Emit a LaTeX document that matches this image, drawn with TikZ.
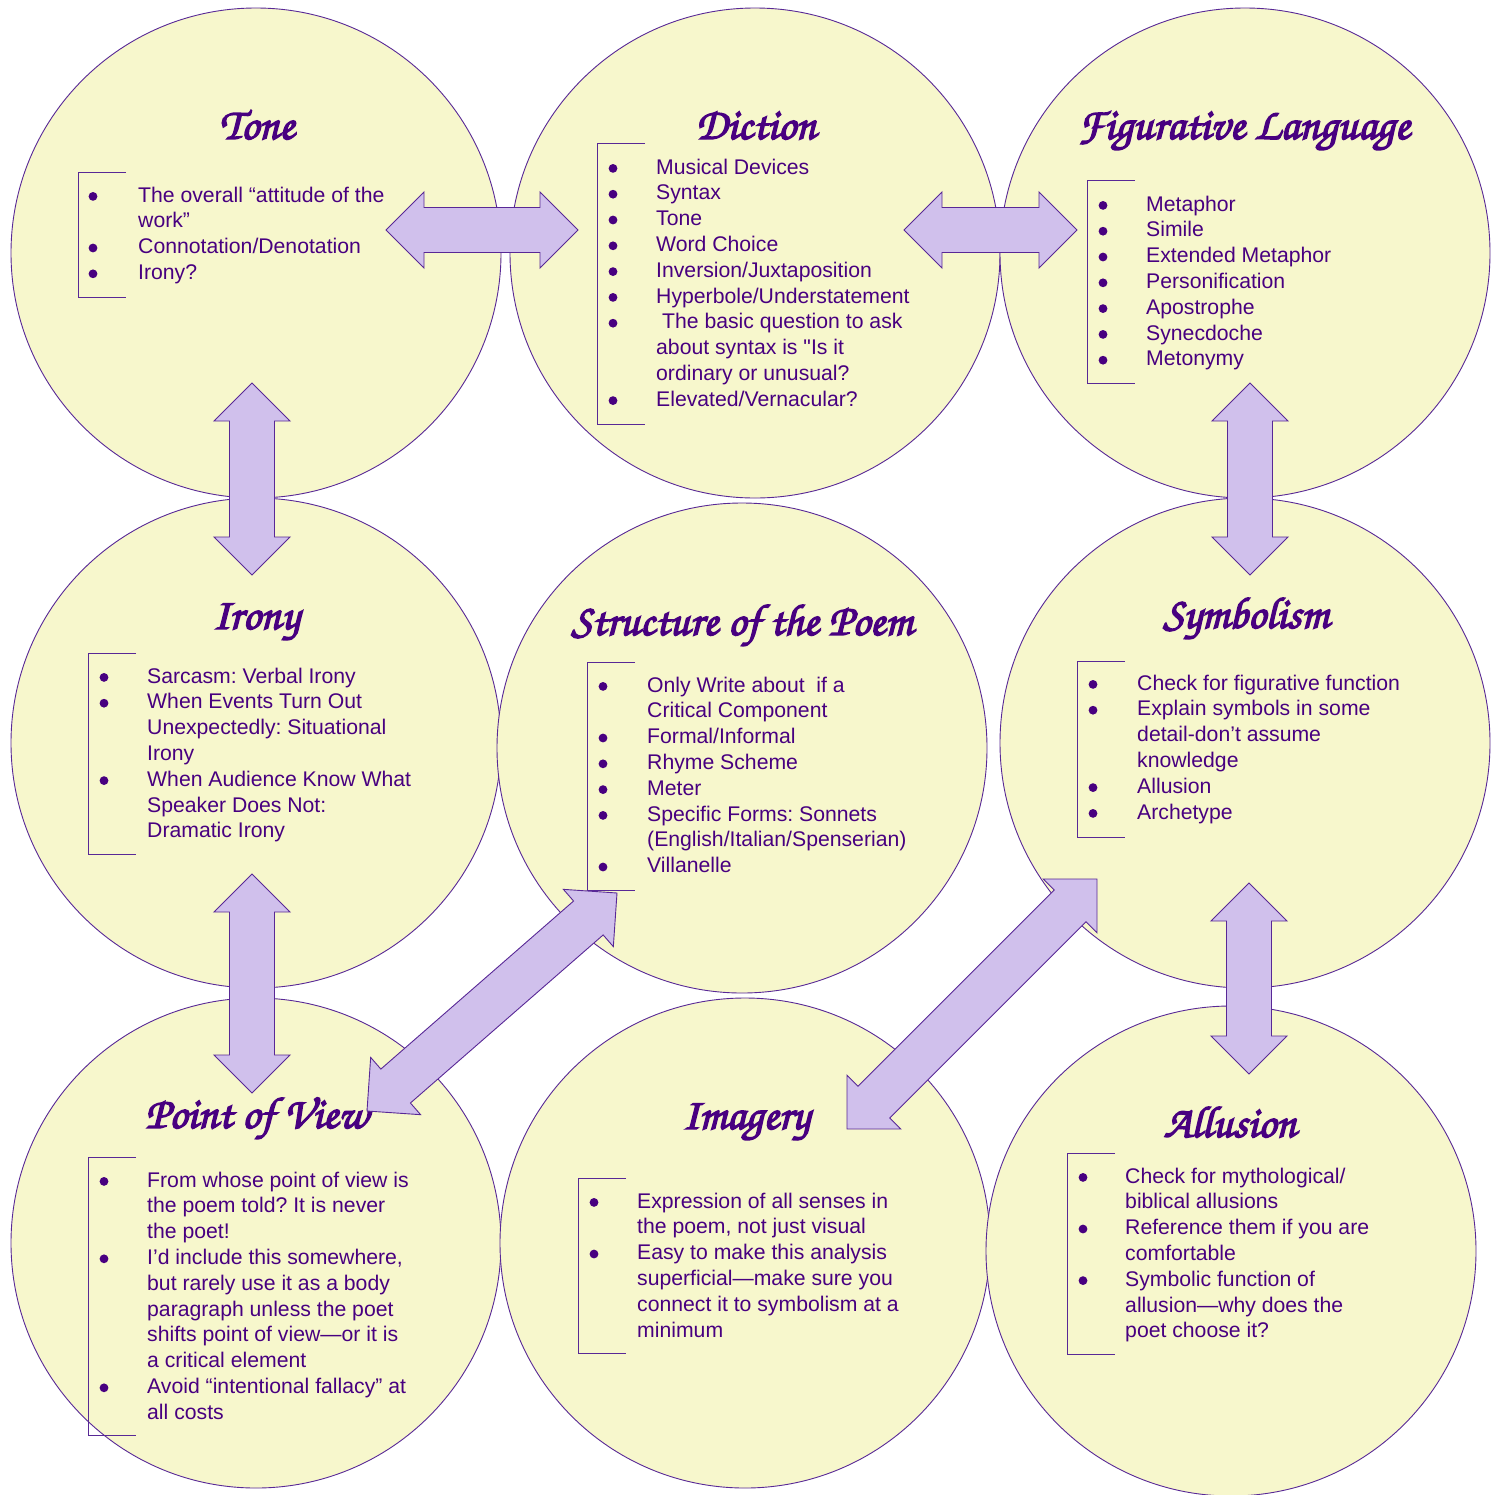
\documentclass[tikz,border=0pt]{standalone}
\usepackage{fontspec}
\setmainfont{Liberation Sans}
\usetikzlibrary{calc}
\frenchspacing
\font\plainquotefont="Liberation Sans" at 21.2pt
\newcommand{\straightquote}{{\plainquotefont\char34}}
\definecolor{circfill}{RGB}{247,247,204}
\definecolor{ink}{RGB}{72,0,128}
\definecolor{edge}{RGB}{88,40,150}
\definecolor{arrfill}{RGB}{208,192,236}
\newcommand{\chancery}{\fontencoding{OT1}\fontfamily{pzc}\fontseries{mb}\fontshape{it}\fontsize{44.5}{50}\selectfont}
\newcommand{\heavytitle}[1]{\special{pdf:literal direct 2 Tr 1.4 w}#1\special{pdf:literal direct 0 Tr}}
\tikzset{
  bubble/.style={circle, draw=edge, fill=circfill, line width=0.9pt, minimum size=490pt, inner sep=0pt},
  title/.style={text=ink, font=\chancery, anchor=base, inner sep=0pt},
  txt/.style={text=ink, font=\fontsize{21.2}{25.8}\selectfont, anchor=base west, inner sep=0pt},
  brk/.style={draw=edge, line width=0.9pt},
  blockarrow/.style={draw=edge, fill=arrfill, line width=0.9pt, line join=miter}
}
\newcommand{\textlines}[4]{%
  \foreach \ln [count=\i] in {#4} {
    \node[txt] (#1-\i) at (#2, {#3+(\i-1)*25.8}) {\ln};
  }}
\newcommand{\bulletdots}[4]{%
  \foreach \i in {#4} { \fill[ink] (#2, {#3+(\i-1)*25.8-5.6}) circle (4.4); }}
\newcommand{\bracketline}[3]{%
  \draw[brk] (#1+48,#2) -- (#1,#2) -- (#1,#3) -- (#1+48,#3);}
\newcommand{\dblarrow}[2]{%
  \path ($(#1)!38pt!(#2)$) coordinate (h1) ($(#2)!38pt!(#1)$) coordinate (h2);
  \draw[blockarrow] (#1) -- ($(h1)!38pt!90:(#2)$) -- ($(h1)!22.5pt!90:(#2)$)
    -- ($(h2)!22.5pt!-90:(#1)$) -- ($(h2)!38pt!-90:(#1)$) -- (#2)
    -- ($(h2)!38pt!90:(#1)$) -- ($(h2)!22.5pt!90:(#1)$)
    -- ($(h1)!22.5pt!-90:(#2)$) -- ($(h1)!38pt!-90:(#2)$) -- cycle;}
\begin{document}
\begin{tikzpicture}[x=1pt,y=-1pt]
\useasboundingbox (0,0) rectangle (1498,1494);
\fill[white] (0,0) rectangle (1498,1494);
% circles
\node[bubble] (tone) at (256,253) {};
\node[bubble] (diction) at (755,253) {};
\node[bubble] (figurative) at (1245,253) {};
\node[bubble] (irony) at (256,743) {};
\node[bubble] (structure) at (742,748) {};
\node[bubble] (symbolism) at (1245,743) {};
\node[bubble] (pov) at (256,1243) {};
\node[bubble] (imagery) at (745,1243) {};
\node[bubble] (allusion) at (1231,1251) {};
% titles
\node[title] (t-tone) at (257,139) {\heavytitle{Tone}};
\node[title] (t-diction) at (756,139) {\heavytitle{Diction}};
\node[title] (t-fig) at (1244,139) {\heavytitle{Figurative Language}};
\node[title] (t-irony) at (256,629) {\heavytitle{Irony}};
\node[title] (t-struct) at (742,635) {\heavytitle{Structure of the Poem}};
\node[title] (t-symb) at (1246,628) {\heavytitle{Symbolism}};
\node[title] (t-pov) at (257,1128) {\heavytitle{Point of View}};
\node[title] (t-img) at (746,1129) {\heavytitle{Imagery}};
\node[title] (t-all) at (1230,1137) {\heavytitle{Allusion}};
% Tone
\bracketline{78}{172}{297}
\bulletdots{tn}{93}{202}{1,3,4}
\textlines{tn}{138}{202}{The overall “attitude of the, work”, Connotation/Denotation, Irony?}
% Diction
\bracketline{597}{143}{424}
\bulletdots{dc}{613}{174}{1,2,3,4,5,6,7,10}
\textlines{dc}{656}{174}{Musical Devices, Syntax, Tone, Word Choice, Inversion/Juxtaposition, Hyperbole/Understatement, {\ The basic question to ask}, about syntax is \straightquote Is it, ordinary or unusual?, Elevated/Vernacular?}
% Figurative
\bracketline{1087}{180}{383}
\bulletdots{fg}{1103}{211}{1,2,3,4,5,6,7}
\textlines{fg}{1146}{211}{Metaphor, Simile, Extended Metaphor, Personification, Apostrophe, Synecdoche, Metonymy}
% Irony
\bracketline{88}{653}{854}
\bulletdots{ir}{104}{683}{1,2,5}
\textlines{ir}{147}{683}{Sarcasm: Verbal Irony, When Events Turn Out, Unexpectedly: Situational, Irony, When Audience Know What, Speaker Does Not:, Dramatic Irony}
% Structure
\bracketline{587}{662}{890}
\bulletdots{st}{603}{692}{1,3,4,5,6,8}
\textlines{st}{647}{692}{Only Write about\ \ if a, Critical Component, Formal/Informal, Rhyme Scheme, Meter, Specific Forms: Sonnets, (English/Italian/Spenserian), Villanelle}
% Symbolism
\bracketline{1077}{661}{837}
\bulletdots{sy}{1093}{690}{1,2,5,6}
\textlines{sy}{1137}{690}{Check for figurative function, Explain symbols in some, detail-don’t assume, knowledge, Allusion, Archetype}
% Point of view
\bracketline{88}{1157}{1435}
\bulletdots{pv}{104}{1187}{1,4,9}
\textlines{pv}{147}{1187}{From whose point of view is, the poem told? It is never, the poet!, {I’d include this somewhere,}, but rarely use it as a body, paragraph unless the poet, shifts point of view—or it is, a critical element, Avoid “intentional fallacy” at, all costs}
% Imagery
\bracketline{578}{1178}{1353}
\bulletdots{im}{594}{1208}{1,3}
\textlines{im}{637}{1208}{Expression of all senses in, {the poem, not just visual}, Easy to make this analysis, superficial—make sure you, connect it to symbolism at a, minimum}
% Allusion
\bracketline{1067}{1153}{1354}
\bulletdots{al}{1083}{1183}{1,3,5}
\textlines{al}{1125}{1183}{Check for mythological/, biblical allusions, Reference them if you are, comfortable, Symbolic function of, allusion—why does the, poet choose it?}
% arrow end points
\coordinate (a1s) at (386,230);  \coordinate (a1e) at (578,230);
\coordinate (a2s) at (904,230);  \coordinate (a2e) at (1077,230);
\coordinate (a3s) at (252,383);  \coordinate (a3e) at (252,575);
\coordinate (a4s) at (252,874);  \coordinate (a4e) at (252,1093);
\coordinate (a5s) at (1250,383); \coordinate (a5e) at (1250,575);
\coordinate (a6s) at (1249,883); \coordinate (a6e) at (1249,1074);
\coordinate (a7s) at (617,893);  \coordinate (a7e) at (367,1111);
\coordinate (a8s) at (1097,879); \coordinate (a8e) at (847,1129);
\dblarrow{a1s}{a1e}
\dblarrow{a2s}{a2e}
\dblarrow{a3s}{a3e}
\dblarrow{a4s}{a4e}
\dblarrow{a5s}{a5e}
\dblarrow{a6s}{a6e}
\dblarrow{a7s}{a7e}
\dblarrow{a8s}{a8e}
\end{tikzpicture}
\end{document}
